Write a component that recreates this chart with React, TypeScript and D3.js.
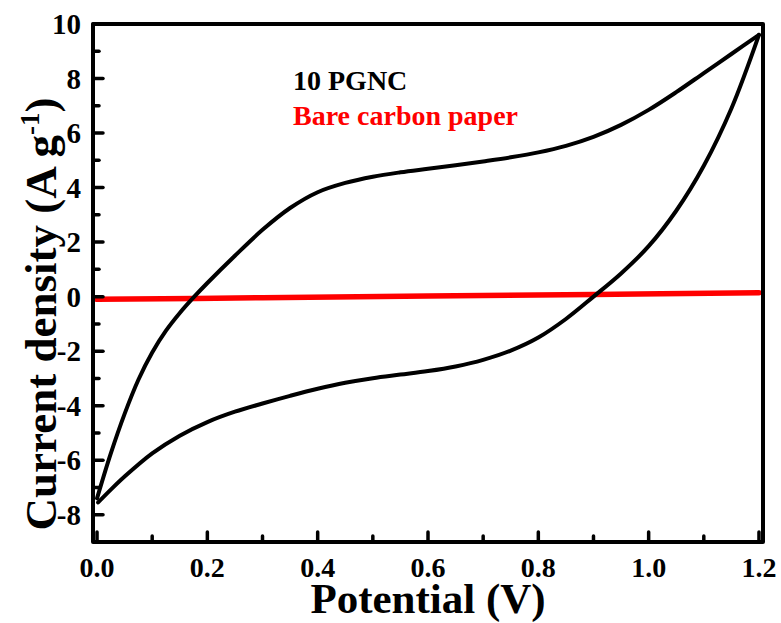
import React from 'react';
import * as d3 from 'd3';

// forward scan (0 -> 1.2 V), 10 PGNC
const fwdPotential = [0, 0.025, 0.05, 0.075, 0.1, 0.125, 0.15, 0.175, 0.2, 0.25, 0.3, 0.35, 0.4, 0.45, 0.5, 0.55, 0.6, 0.65, 0.7, 0.75, 0.8, 0.85, 0.9, 0.95, 1.0, 1.05, 1.1, 1.15, 1.2];
const fwdCurrent = [-7.4, -5.75, -4.3, -3.05, -2.05, -1.25, -0.6, -0.03, 0.5, 1.5, 2.45, 3.25, 3.83, 4.17, 4.4, 4.56, 4.69, 4.82, 4.96, 5.11, 5.29, 5.53, 5.86, 6.3, 6.85, 7.5, 8.2, 8.9, 9.6];
// reverse scan (1.2 -> 0 V)
const revPotential = [1.2, 1.15, 1.1, 1.05, 1.0, 0.95, 0.9, 0.85, 0.8, 0.75, 0.7, 0.65, 0.6, 0.55, 0.5, 0.45, 0.4, 0.35, 0.3, 0.25, 0.2, 0.15, 0.1, 0.05, 0.025, 0.002];
const revCurrent = [9.6, 6.9, 4.8, 3.15, 1.85, 0.85, 0.0, -0.82, -1.5, -1.98, -2.32, -2.56, -2.73, -2.86, -2.99, -3.16, -3.38, -3.64, -3.92, -4.22, -4.6, -5.1, -5.75, -6.6, -7.08, -7.55];
// bare carbon paper
const barePotential = [0, 0.3, 0.6, 0.9, 1.2];
const bareCurrent = [-0.1, -0.04, 0.02, 0.08, 0.14];

const xMajor = [0, 0.2, 0.4, 0.6, 0.8, 1.0, 1.2];
const xMinor = [0.1, 0.3, 0.5, 0.7, 0.9, 1.1];
const yMajor = [-8, -6, -4, -2, 0, 2, 4, 6, 8, 10];
const yMinor = [-7, -5, -3, -1, 1, 3, 5, 7, 9];

const W = 781;
const H = 623;
const left = 93, right = 763, top = 24, bottom = 542;
const serif = '"Liberation Serif", "Times New Roman", serif';

export default function App() {
  const x = d3.scaleLinear().domain([-0.0073, 1.2073]).range([left, right]);
  const y = d3.scaleLinear().domain([-9, 10]).range([bottom, top]);

  const line = d3.line<[number, number]>()
    .x(d => x(d[0]))
    .y(d => y(d[1]))
    .curve(d3.curveCatmullRom.alpha(0.5));

  const fwd = fwdPotential.map((v, i) => [v, fwdCurrent[i]] as [number, number]);
  const rev = revPotential.map((v, i) => [v, revCurrent[i]] as [number, number]);
  const bare = barePotential.map((v, i) => [v, bareCurrent[i]] as [number, number]);

  return (
    <svg width={W} height={H} style={{ position: 'absolute', left: 0, top: 0, background: '#fff' }}>
      {/* curves */}
      <path d={line(bare) || ''} fill="none" stroke="#ff0000" strokeWidth={5.5} strokeLinecap="round" />
      <path d={line(fwd) || ''} fill="none" stroke="#000" strokeWidth={4} strokeLinecap="round" strokeLinejoin="round" />
      <path d={line(rev) || ''} fill="none" stroke="#000" strokeWidth={4} strokeLinecap="round" strokeLinejoin="round" />

      {/* frame */}
      <rect x={left} y={top} width={right - left} height={bottom - top} fill="none" stroke="#000" strokeWidth={4} strokeLinejoin="round" />

      {/* x ticks */}
      {xMajor.map(t => (
        <line key={'xM' + t} x1={x(t)} x2={x(t)} y1={bottom} y2={bottom - 10} stroke="#000" strokeWidth={3.5} strokeLinecap="round" />
      ))}
      {xMinor.map(t => (
        <line key={'xm' + t} x1={x(t)} x2={x(t)} y1={bottom} y2={bottom - 6} stroke="#000" strokeWidth={3.5} strokeLinecap="round" />
      ))}
      {xMajor.map(t => (
        <text key={'xl' + t} x={x(t)} y={577} textAnchor="middle" fontFamily={serif} fontWeight="bold" fontSize={28}>
          {d3.format('.1f')(t)}
        </text>
      ))}

      {/* y ticks */}
      {yMajor.map(t => (
        <line key={'yM' + t} x1={left} x2={left + 10} y1={y(t)} y2={y(t)} stroke="#000" strokeWidth={3.5} strokeLinecap="round" />
      ))}
      {yMinor.map(t => (
        <line key={'ym' + t} x1={left} x2={left + 6} y1={y(t)} y2={y(t)} stroke="#000" strokeWidth={3.5} strokeLinecap="round" />
      ))}
      {yMajor.map(t => (
        <text key={'yl' + t} x={81} y={y(t) + 10} textAnchor="end" fontFamily={serif} fontWeight="bold" fontSize={29}>
          {t}
        </text>
      ))}

      {/* axis titles */}
      <text x={(left + right) / 2} y={613} textAnchor="middle" fontFamily={serif} fontWeight="bold" fontSize={43}>
        Potential (V)
      </text>
      <text transform="translate(56,314) rotate(-90)" textAnchor="middle" fontFamily={serif} fontWeight="bold" fontSize={45}>
        Current density (A g<tspan dy={-17} fontSize={27}>-1</tspan><tspan dy={17}>)</tspan>
      </text>

      {/* legend */}
      <text x={293} y={90} fontFamily={serif} fontWeight="bold" fontSize={28} fill="#000">10 PGNC</text>
      <text x={293} y={125} fontFamily={serif} fontWeight="bold" fontSize={28} fill="#ff0000">Bare carbon paper</text>
    </svg>
  );
}
